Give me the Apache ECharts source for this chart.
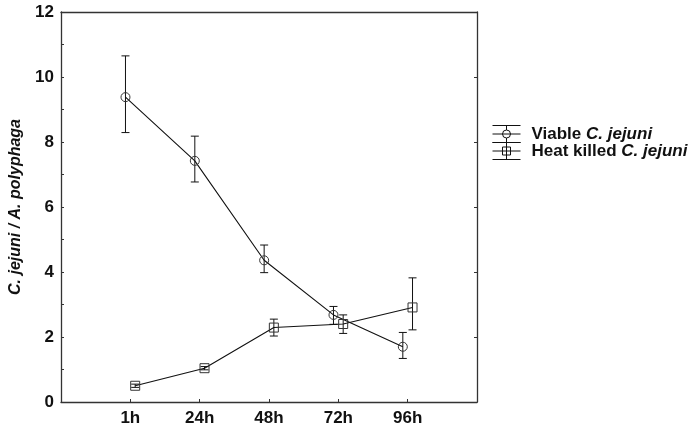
<!DOCTYPE html>
<html><head><meta charset="utf-8">
<script src="https://cdn.jsdelivr.net/npm/echarts@6/dist/echarts.min.js"></script>
<style>html,body{margin:0;padding:0;background:#fff}#c{width:689px;height:431px}</style>
</head><body><div id="c"></div>
<script>
var categories = ['1h', '24h', '48h', '72h', '96h'];
var viableMean = [9.38, 7.42, 4.36, 2.68, 1.70];
var viableLow  = [8.29, 6.77, 3.98, 2.39, 1.34];
var viableHigh = [10.65, 8.18, 4.83, 2.94, 2.14];
var heatMean = [0.50, 1.04, 2.29, 2.40, 2.91];
var heatLow  = [0.45, 0.99, 2.03, 2.11, 2.22];
var heatHigh = [0.55, 1.09, 2.55, 2.68, 3.82];
var yTicks = [0, 2, 4, 6, 8, 10, 12];
var seriesNames = ['Viable C. jejuni', 'Heat killed C. jejuni'];

var OFF = 0.07;
function pts(mean, off){ return mean.map(function(v,i){ return [i+1+off, v]; }); }
function errs(low, high, off){ return low.map(function(v,i){ return [i+1+off, v, high[i]]; }); }
function errItem(params, api){
  var x = api.value(0);
  var lo = api.coord([x, api.value(1)]);
  var hi = api.coord([x, api.value(2)]);
  var w = 4;
  var st = {stroke:'#111', lineWidth:1, fill:null};
  return {type:'group', children:[
    {type:'line', shape:{x1:lo[0],y1:lo[1],x2:hi[0],y2:hi[1]}, style:st},
    {type:'line', shape:{x1:lo[0]-w,y1:lo[1],x2:lo[0]+w,y2:lo[1]}, style:st},
    {type:'line', shape:{x1:hi[0]-w,y1:hi[1],x2:hi[0]+w,y2:hi[1]}, style:st}
  ]};
}
var ax = {color:'#333', width:1.3};
var font = 'Liberation Sans, Arial, sans-serif';
var chart = echarts.init(document.getElementById('c'));
chart.setOption({
  animation:false,
  grid:{left:59, right:212, top:12, bottom:29},
  xAxis:[
    {type:'value', min:0, max:6, interval:1, position:'bottom',
     axisLine:{onZero:false, lineStyle:ax}, splitLine:{show:false},
     axisTick:{inside:true, length:3, lineStyle:{color:'#333'}},
     axisLabel:{fontFamily:font, fontWeight:'bold', fontSize:17, color:'#111', margin:8,
       formatter:function(v){ return (v>=1 && v<=categories.length) ? categories[v-1] : ''; }}},
    {type:'value', min:0, max:6, interval:1, position:'top',
     axisLine:{show:true, onZero:false, lineStyle:ax}, axisTick:{show:false}, axisLabel:{show:false}, splitLine:{show:false}}
  ],
  yAxis:[
    {type:'value', min:0, max:12, interval:1, position:'left',
     axisLine:{show:true, onZero:false, lineStyle:ax}, splitLine:{show:false},
     axisTick:{inside:true, length:3, lineStyle:{color:'#333'}},
     axisLabel:{fontFamily:font, fontWeight:'bold', fontSize:17, color:'#111', margin:7,
       formatter:function(v){ return yTicks.indexOf(v)>=0 ? String(v) : ''; }},
     name:'C. jejuni / A. polyphaga', nameLocation:'middle', nameGap:37,
     nameTextStyle:{fontFamily:font, fontWeight:'bold', fontStyle:'italic', fontSize:16, color:'#111'}},
    {type:'value', min:0, max:12, interval:2, position:'right',
     axisLine:{show:true, onZero:false, lineStyle:ax}, splitLine:{show:false},
     axisTick:{inside:true, length:3, lineStyle:{color:'#333'}}, axisLabel:{show:false}}
  ],
  legend:{
    orient:'vertical', left:490, top:123, padding:0, itemGap:-5, itemWidth:28, itemHeight:17,
    data:[
      {name:seriesNames[0], icon:'path://M0,0H28M0,8.5H28M0,17H28M14,0V4.5M14,12.5V17M10,8.5A4,4,0,1,0,18,8.5A4,4,0,1,0,10,8.5Z'},
      {name:seriesNames[1], icon:'path://M0,0H28M0,8.5H28M0,17H28M14,0V17M10,4.5H18V12.5H10Z'}
    ],
    itemStyle:{color:'none', borderColor:'#111', borderWidth:1},
    formatter:function(n){ var p = n.split('C. '); return '{r|'+p[0]+'}{i|C. '+p[1]+'}'; },
    textStyle:{fontFamily:font, fontWeight:'bold', fontSize:17, lineHeight:17, color:'#111', padding:[0,0,0,6],
      rich:{r:{fontFamily:font, fontWeight:'bold', fontSize:17, lineHeight:17, color:'#111'},
            i:{fontFamily:font, fontWeight:'bold', fontStyle:'italic', fontSize:17, lineHeight:17, color:'#111'}}}
  },
  series:[
    {name:seriesNames[0], type:'line', data:pts(viableMean,-OFF), symbol:'circle', symbolSize:9,
     lineStyle:{color:'#111', width:1.1}, itemStyle:{color:'rgba(255,255,255,0)', borderColor:'#333', borderWidth:1}, z:3},
    {name:seriesNames[1], type:'line', data:pts(heatMean,OFF), symbol:'rect', symbolSize:9,
     lineStyle:{color:'#111', width:1.1}, itemStyle:{color:'rgba(255,255,255,0)', borderColor:'#333', borderWidth:1}, z:3},
    {name:'err1', type:'custom', renderItem:errItem, data:errs(viableLow,viableHigh,-OFF), z:2},
    {name:'err2', type:'custom', renderItem:errItem, data:errs(heatLow,heatHigh,OFF), z:2}
  ]
});
</script></body></html>
